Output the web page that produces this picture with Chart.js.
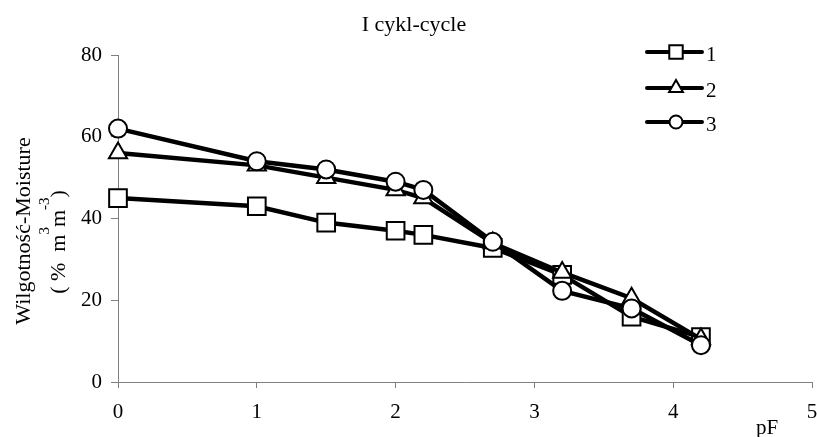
<!DOCTYPE html>
<html>
<head>
<meta charset="utf-8">
<script src="https://cdn.jsdelivr.net/npm/chart.js@4.4.1/dist/chart.umd.min.js"></script>
<style>
html,body{margin:0;padding:0;background:#fff;}
#wrap{width:817px;height:437px;position:relative;}
</style>
</head>
<body>
<div id="wrap"><canvas id="c" width="817" height="437"></canvas></div>
<script>
const pF = [0, 1, 1.5, 2, 2.2, 2.7, 3.2, 3.7, 4.2];
const series1 = [45, 43, 39, 37, 36, 32.8, 26.2, 16, 11];
const series2 = [56, 53, 50, 47, 45, 34, 26.8, 20.5, 10.5];
const series3 = [62, 54, 52, 49, 47, 34.3, 22.3, 18, 9];
const seriesLabels = ['1', '2', '3'];
const xTicks = [0, 1, 2, 3, 4, 5];
const yTicks = [0, 20, 40, 60, 80];
const chartTitle = 'I cykl-cycle';
const yTitleLine1 = 'Wilgotność-Moisture';
// second line pieces: [text, superscript?]
const yTitleLine2 = [['( %  m', false], ['3', true], ['m', false], ['-3', true], [')', false]];
const xTitle = 'pF';

const FONT = 'Liberation Serif';
const styles = ['rect', 'triangle', 'circle'];
const radii = [12.5, 10.5, 9];
const legendRadii = [9.5, 8, 6.5];

function pts(arr){ return pF.map((x,i)=>({x:x, y:arr[i]})); }
const allSeries = [series1, series2, series3];

const datasets = allSeries.map((s,i)=>({
  label: seriesLabels[i],
  data: pts(s),
  borderColor: '#000',
  borderWidth: 4.5,
  backgroundColor: '#fff',
  pointStyle: styles[i],
  pointRadius: radii[i],
  pointBorderWidth: 2,
  pointBackgroundColor: '#fff',
  pointBorderColor: '#000',
  tension: 0,
  clip: false,
  order: 2 - i
}));

const extras = {
  id: 'extras',
  afterDraw(chart){
    const ctx = chart.ctx;
    ctx.save();
    // legend
    const rows = [52, 88, 122];
    chart.data.datasets.forEach((ds, i) => {
      const y = rows[i];
      ctx.strokeStyle = '#000';
      ctx.lineWidth = 4;
      ctx.lineCap = 'round';
      ctx.beginPath();
      ctx.moveTo(647, y);
      ctx.lineTo(702, y);
      ctx.stroke();
      ctx.lineWidth = 2;
      ctx.fillStyle = '#fff';
      Chart.helpers.drawPoint(ctx, {pointStyle: ds.pointStyle, radius: legendRadii[i], rotation: 0, borderWidth: 2}, 676, y);
      ctx.fillStyle = '#000';
      ctx.font = '21px "' + FONT + '"';
      ctx.textAlign = 'left';
      ctx.textBaseline = 'middle';
      ctx.fillText(ds.label, 706, y + 3);
    });
    // x axis title
    ctx.fillStyle = '#000';
    ctx.font = '21px "' + FONT + '"';
    ctx.textAlign = 'center';
    ctx.textBaseline = 'middle';
    ctx.fillText(xTitle, 767, 428);
    ctx.restore();

    // y axis title (rotated, two lines with superscripts)
    ctx.save();
    ctx.fillStyle = '#000';
    ctx.translate(24, 231);
    ctx.rotate(-Math.PI / 2);
    ctx.font = '22px "' + FONT + '"';
    ctx.textAlign = 'center';
    ctx.textBaseline = 'middle';
    ctx.fillText(yTitleLine1, 0, 0);
    ctx.restore();

    ctx.save();
    ctx.fillStyle = '#000';
    ctx.translate(59, 242);
    ctx.rotate(-Math.PI / 2);
    ctx.textBaseline = 'middle';
    ctx.textAlign = 'left';
    const big = '22px "' + FONT + '"';
    const small = '15px "' + FONT + '"';
    let total = 0;
    yTitleLine2.forEach(([t, sup]) => { ctx.font = sup ? small : big; total += ctx.measureText(t).width; });
    let xpos = -total / 2;
    yTitleLine2.forEach(([t, sup]) => {
      ctx.font = sup ? small : big;
      ctx.fillText(t, xpos, sup ? -14 : 0);
      xpos += ctx.measureText(t).width;
    });
    ctx.restore();
  }
};

new Chart(document.getElementById('c'), {
  type: 'line',
  data: { datasets },
  options: {
    responsive: false,
    animation: false,
    layout: { autoPadding: false, padding: { left: 16, right: 5, top: 0, bottom: 0 } },
    plugins: {
      legend: { display: false },
      tooltip: { enabled: false },
      title: {
        display: true,
        text: chartTitle,
        color: '#000',
        font: { family: FONT, size: 22, weight: 'normal', lineHeight: 1.2 },
        padding: { top: 12, bottom: 16.6 }
      }
    },
    scales: {
      x: {
        type: 'linear',
        min: 0, max: 5,
        afterBuildTicks(scale){ scale.ticks = xTicks.map(v=>({value:v})); },
        afterFit(scale){ scale.height = 55; scale.paddingRight = 0; scale.paddingLeft = 0; },
        grid: { display: true, drawOnChartArea: false, drawTicks: true, tickLength: 6, color: '#808080', lineWidth: 1 },
        border: { display: true, color: '#808080', width: 1 },
        ticks: { color: '#000', font: { family: FONT, size: 21 }, padding: 12, maxRotation: 0 }
      },
      y: {
        type: 'linear',
        min: 0, max: 80,
        afterBuildTicks(scale){ scale.ticks = yTicks.map(v=>({value:v})); },
        afterFit(scale){ scale.width = 102; },
        grid: { display: true, drawOnChartArea: false, drawTicks: true, tickLength: 7, color: '#808080', lineWidth: 1 },
        border: { display: true, color: '#808080', width: 1 },
        ticks: { color: '#000', font: { family: FONT, size: 21 }, padding: 9 }
      }
    }
  },
  plugins: [extras]
});
</script>
</body>
</html>
